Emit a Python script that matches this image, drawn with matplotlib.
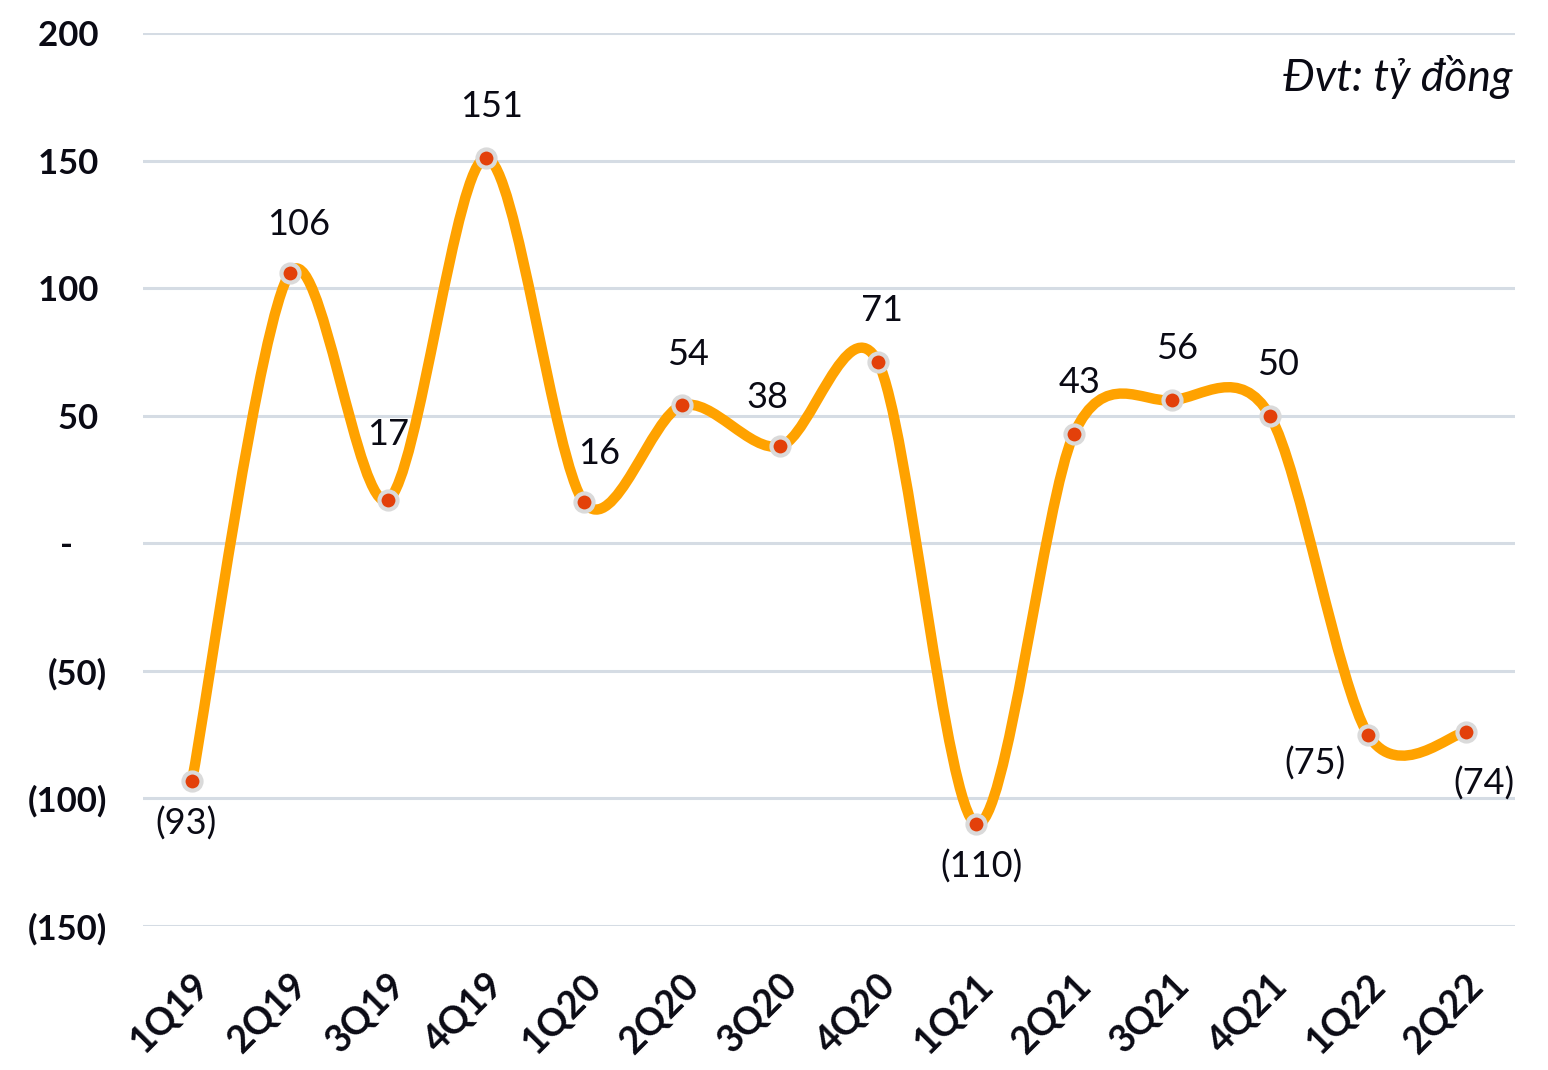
import matplotlib
matplotlib.use("Agg")
import matplotlib.pyplot as plt
from matplotlib.path import Path
from matplotlib.patches import PathPatch

plt.rcParams['font.family'] = ['Lato', 'DejaVu Sans']

categories = ['1Q19', '2Q19', '3Q19', '4Q19', '1Q20', '2Q20', '3Q20', '4Q20',
              '1Q21', '2Q21', '3Q21', '4Q21', '1Q22', '2Q22']
values = [-93, 106, 17, 151, 16, 54, 38, 71, -110, 43, 56, 50, -75, -74]
yticks = [-150, -100, -50, 0, 50, 100, 150, 200]
unit_text = 'Đvt: tỷ đồng'

# label offsets in points (dx, dy)
label_offsets = [(-4, -31), (6, 35), (0, 47), (4, 37), (11, 35), (4, 37), (-9, 35), (3, 37),
                 (4, -31), (4, 37), (4, 37), (6, 37), (-38, -21), (13, -37)]

fig = plt.figure(figsize=(15.48, 10.70), dpi=100)
ax = fig.add_axes([0.0924, 0.1346, 0.8863, 0.8346])

x = list(range(len(values)))

# smooth curve (Catmull-Rom style Bezier, like spreadsheet smoothing)
verts = [(x[0], values[0])]
codes = [Path.MOVETO]
n = len(values)
t = 1 / 6.5
for i in range(n - 1):
    p0 = (x[max(i - 1, 0)], values[max(i - 1, 0)])
    p1 = (x[i], values[i])
    p2 = (x[i + 1], values[i + 1])
    p3 = (x[min(i + 2, n - 1)], values[min(i + 2, n - 1)])
    c1 = (p1[0] + (p2[0] - p0[0]) * t, p1[1] + (p2[1] - p0[1]) * t)
    c2 = (p2[0] - (p3[0] - p1[0]) * t, p2[1] - (p3[1] - p1[1]) * t)
    verts += [c1, c2, p2]
    codes += [Path.CURVE4, Path.CURVE4, Path.CURVE4]
patch = PathPatch(Path(verts, codes), facecolor='none', edgecolor='#FFA200',
                  lw=7.5, capstyle='round', joinstyle='round', zorder=3)
ax.add_patch(patch)

ax.plot(x, values, linestyle='none', marker='o', markersize=13,
        markerfacecolor='#E3400A', markeredgecolor='#DADADA', markeredgewidth=3, zorder=4)

def fmt(v):
    return f'({abs(v)})' if v < 0 else f'{v}'

for xi, v, (dx, dy) in zip(x, values, label_offsets):
    ax.annotate(fmt(v), (xi, v), xytext=(dx, dy), textcoords='offset points',
                ha='center', va='center', fontsize=26, color='#0A0A14', zorder=5)

ax.set_xlim(-0.5, n - 0.5)
ax.set_ylim(-150, 200)
ax.set_yticks(yticks)

def yfmt(v):
    if v < 0:
        return f'({abs(v)})'
    if v == 0:
        return '-    '
    return f'{v} '

ax.set_yticklabels([yfmt(v) for v in yticks], fontsize=25, fontweight='bold', color='#0A0A14')
ax.set_xticks(x)
ax.set_xticklabels(categories, rotation=45, ha='right', rotation_mode='anchor',
                   fontsize=27, fontweight='bold', color='#0A0A14')
ax.tick_params(axis='both', length=0)
ax.tick_params(axis='y', pad=26)
ax.tick_params(axis='x', pad=30)
for lbl in ax.get_xticklabels():
    lbl.set_x(lbl.get_position()[0])
ax.grid(axis='y', color='#D5DCE4', lw=2.2)
ax.set_axisbelow(True)
for s in ax.spines.values():
    s.set_visible(False)

ax.text(0.998, 0.951, unit_text, transform=ax.transAxes, ha='right', va='center',
        fontsize=32, style='italic', color='#0A0A14')

fig.savefig('out.png', dpi=100)
